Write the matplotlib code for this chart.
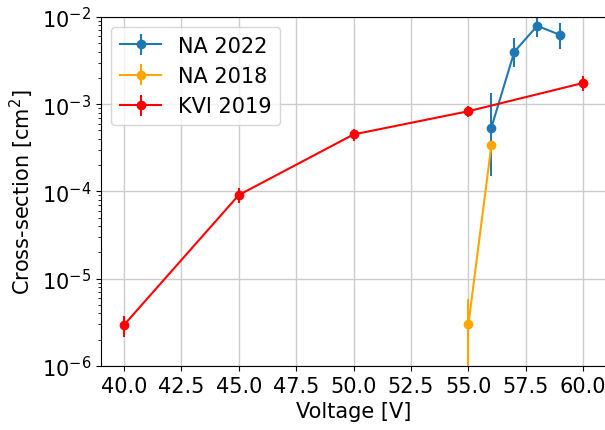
import matplotlib
matplotlib.use("Agg")
import matplotlib.pyplot as plt

# NA 2022
na22_v = [56, 57, 58, 59]
na22_xs = [5.4e-4, 4.0e-3, 7.9e-3, 6.2e-3]
na22_err_lo = [3.9e-4, 1.3e-3, 2.0e-3, 1.9e-3]
na22_err_hi = [8.0e-4, 1.7e-3, 2.3e-3, 2.3e-3]

# NA 2018
na18_v = [55, 56]
na18_xs = [3.0e-6, 3.4e-4]
na18_err = [2.8e-6, 1.0e-5]

# KVI 2019
kvi_v = [40, 45, 50, 55, 60]
kvi_xs = [2.95e-6, 9.1e-5, 4.5e-4, 8.3e-4, 1.75e-3]
kvi_err = [0.8e-6, 1.8e-5, 7e-5, 1.2e-4, 3.3e-4]

plt.rcParams['font.size'] = 15

fig = plt.figure(figsize=(6.05, 4.31), dpi=100)
ax = fig.add_axes([0.167, 0.1485, 0.835, 0.81])

ax.errorbar(na22_v, na22_xs, yerr=[na22_err_lo, na22_err_hi], fmt='o-',
            color='#1f77b4', label='NA 2022')
ax.errorbar(na18_v, na18_xs, yerr=na18_err, fmt='o-', color='orange',
            label='NA 2018')
ax.errorbar(kvi_v, kvi_xs, yerr=kvi_err, fmt='o-', color='red',
            label='KVI 2019')

ax.set_yscale('log')
ax.set_ylim(1e-6, 1e-2)
ax.set_xlim(39, 61)
ax.set_xticks([40, 42.5, 45, 47.5, 50, 52.5, 55, 57.5, 60])
ax.set_xticklabels(['40.0', '42.5', '45.0', '47.5', '50.0', '52.5', '55.0', '57.5', '60.0'])
ax.grid(True, color='#cccccc', linewidth=1)
ax.set_xlabel('Voltage [V]')
ax.set_ylabel('Cross-section [cm$^2$]')
ax.legend(loc='upper left')

fig.savefig('out.png', dpi=100)
